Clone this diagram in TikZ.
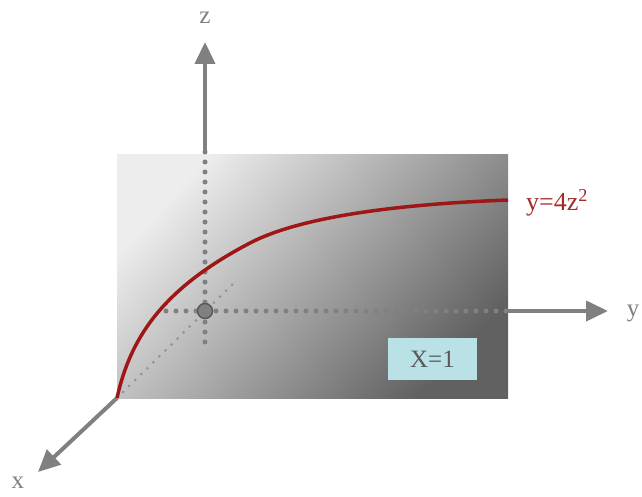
\documentclass[tikz,border=0pt]{standalone}
\usepackage{fontspec}
\setmainfont{Liberation Serif}
\usetikzlibrary{arrows.meta}
\definecolor{axisgray}{HTML}{808080}
\definecolor{curvered}{HTML}{9E1616}
\definecolor{labelred}{HTML}{A52A2A}
\definecolor{boxcyan}{HTML}{B9E1E6}
\tikzset{
  axis/.style={draw=axisgray, line width=4pt, -{Triangle[length=22pt,width=20pt]}},
  dotline/.style={draw=axisgray, line width=5pt, line cap=round, dash pattern=on 0pt off 10pt},
  thindot/.style={draw=axisgray!85, line width=3pt, line cap=round, dash pattern=on 0pt off 8.5pt},
  axlabel/.style={text=axisgray, font=\fontsize{25}{28}\selectfont, inner sep=0pt},
}
\begin{document}
\begin{tikzpicture}[x=1pt,y=-1pt]
\useasboundingbox (0,0) rectangle (642,497);
% plane
\shade[top color=white!93!black, middle color=black!24, bottom color=black!62, shading angle=47] (117,155) rectangle (508,398);
\coordinate (O) at (205,311);
\coordinate (ztop) at (205,152);
\coordinate (zbot) at (205,343);
\coordinate (yl) at (166,311);
\coordinate (yr) at (508,311);
\coordinate (ytip) at (608,311);
\coordinate (corner) at (117,398);
\coordinate (dend) at (237,280);
\coordinate (xtip) at (38,472);
\coordinate (zend) at (205,42);
% axes
\draw[axis] (ztop) -- (zend);
\draw[axis] (yr) -- (ytip);
\draw[axis] (corner) -- (xtip);
% dotted lines
\draw[dotline] (ztop) -- (zbot);
\draw[dotline] (yl) -- (yr);
\draw[thindot] (corner) -- (dend);
% curve
\draw[curvered, line width=3.5pt] (corner) .. controls (130,340) and (160,290) .. (250,243)
  .. controls (310,211.7) and (430,203) .. (508,200);
% origin
\node[circle, fill=axisgray, draw=black!65, line width=1.5pt, minimum size=15pt, inner sep=0pt] (origin) at (O) {};
% labels
\node[axlabel] (zlab) at (205,18) {z};
\node[axlabel] (ylab) at (633,313) {y};
\node[axlabel] (xlab) at (18,483) {x};
\node[text=labelred, font=\fontsize{26}{28}\selectfont, anchor=west, inner sep=0pt] (eq) at (526,203) {y=4z\textsuperscript{2}};
\node[fill=boxcyan, text=black!65, minimum width=89pt, minimum height=42pt, inner sep=0pt, font=\fontsize{25}{28}\selectfont] (xbox) at (432.5,359) {X=1};
\end{tikzpicture}
\end{document}
